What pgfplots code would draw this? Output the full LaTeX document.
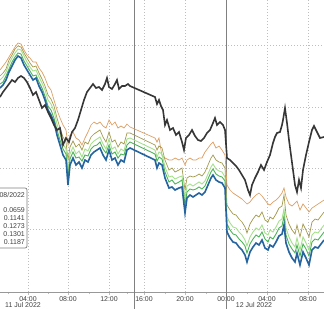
\documentclass[border=0pt]{standalone}
\usepackage{pgfplots}
\pgfplotsset{compat=1.18}
\usepackage{fontspec}
\setmainfont{Liberation Sans}
\definecolor{cBlack}{HTML}{363636}
\definecolor{cBlue}{HTML}{25649E}
\definecolor{cGreen}{HTML}{4DB358}
\definecolor{cLGreen}{HTML}{A6E08C}
\definecolor{cOlive}{HTML}{A39A4E}
\definecolor{cOrange}{HTML}{DDA066}
\definecolor{cGrid}{HTML}{BEBEBE}
\definecolor{cText}{HTML}{404040}
\begin{document}
\begin{tikzpicture}[x=1bp,y=1bp]
\begin{axis}[
  at={(0,0)}, anchor=south west,
  scale only axis, width=324bp, height=292bp,
  xmin=0, xmax=324, ymin=0, ymax=292,
  y dir=reverse,
  axis line style={draw=none},
  clip=false,
  xtick={28,68,109,144,185,226,267,308},
  xticklabels={04:00,08:00,12:00,16:00,20:00,00:00,04:00,08:00},
  minor xtick={8,48,89,127,165,206,247,288},
  xtick pos=lower, xticklabel pos=lower,
  ytick={45,107,168,229}, yticklabels={}, ytick style={draw=none},
  xmajorgrids, ymajorgrids,
  major grid style={cGrid, dash pattern=on 0.8bp off 2.2bp, line width=0.6bp},
  tick align=outside,
  major tick length=3bp, minor tick length=2bp,
  xtick style={cGrid, line width=0.6bp},
  tick label style={font=\fontsize{7}{8}\selectfont, text=cText},
  xticklabel style={yshift=1.5bp},
]
\draw[cGrid!80!black, line width=0.6bp] (axis cs:0,292) -- (axis cs:324,292);
\draw[gray, line width=0.6bp] (axis cs:134,0) -- (axis cs:134,309);
\draw[gray, line width=0.6bp] (axis cs:226,0) -- (axis cs:226,309);

% orange
\addplot[cOrange, line width=0.7bp, no marks] coordinates {
(0,70)(3,66)(6,62)(9,57)(12,52)(15,47)(18,43)(21,44)(24,50)(27,55)(30,58)(33,62)(36,62)(39,68)(42,72)(45,78)(48,86)(51,90)(54,100)(57,110)(60,118)(63,125)(66,130)(68,145)(70,135)(73,132)(76,138)(79,140)(82,145)(85,138)(88,132)(91,125)(94,122)(97,124)(100,122)(103,126)(106,128)(109,120)(112,125)(115,122)(118,128)(121,126)(124,128)(127,124)(130,127)
(155,138)(157,142)(159,138)(162,156)(165,158)(169,160)(172,160)(175,158)(179,160)(182,158)(185,165)(187,160)(190,158)(193,160)(196,160)(199,158)(202,158)(205,152)(208,148)(211,144)(213,142)(216,148)(219,146)(222,150)(225,155)
(227,185)(230,190)(233,193)(236,195)(239,197)(242,199)(245,202)(247,204)(250,202)(253,198)(256,195)(259,193)(262,196)(265,200)(268,204)(270,205)(273,202)(276,200)(279,197)(282,193)(284,188)(286,197)(289,204)(292,206)(295,203)(297,201)(300,210)(303,204)(306,208)(309,212)(312,208)(315,206)(318,204)(321,202)(324,200)};

% olive
\addplot[cOlive, line width=0.7bp, no marks] coordinates {
(0,76)(3,73)(6,69)(9,60)(12,55)(15,49)(18,46)(21,47)(24,53)(27,58)(30,63)(33,67)(36,66)(39,73)(42,79)(45,86)(48,95)(51,99)(54,106)(57,118)(60,128)(63,137)(66,142)(68,160)(70,147)(73,141)(76,147)(79,144)(82,150)(85,142)(88,144)(91,137)(94,134)(97,132)(100,130)(103,137)(106,142)(109,132)(112,142)(115,140)(118,147)(121,142)(124,144)(127,133)(130,133)
(155,145)(157,150)(159,146)(162,148)(165,160)(169,170)(172,168)(175,172)(179,170)(182,168)(185,190)(187,178)(190,176)(193,177)(196,176)(199,174)(202,176)(205,172)(208,165)(211,158)(213,155)(216,160)(219,162)(222,163)(225,168)
(227,205)(230,210)(233,214)(236,215)(239,219)(242,222)(245,227)(247,233)(250,224)(253,219)(256,215)(259,217)(262,212)(265,220)(268,222)(270,217)(273,219)(276,214)(279,208)(282,206)(284,195)(286,215)(289,224)(292,230)(295,234)(297,225)(300,237)(303,224)(306,230)(309,237)(312,222)(315,219)(318,220)(321,216)(324,212)};

% light green
\addplot[cLGreen, line width=0.9bp, no marks] coordinates {
(0,80)(3,77)(6,72)(9,64)(12,58)(15,53)(18,49)(21,50)(24,56)(27,62)(30,67)(33,71)(36,70)(39,77)(42,83)(45,90)(48,100)(51,104)(54,111)(57,124)(60,134)(63,144)(66,149)(68,170)(70,154)(73,147)(76,154)(79,151)(82,157)(85,149)(88,151)(91,144)(94,141)(97,139)(100,137)(103,144)(106,149)(109,139)(112,149)(115,147)(118,154)(121,149)(124,151)(127,139)(130,138)
(155,150)(157,157)(159,152)(162,154)(165,167)(169,177)(172,176)(175,179)(179,177)(182,176)(185,198)(187,186)(190,184)(193,186)(196,184)(199,182)(202,184)(205,181)(208,174)(211,167)(213,164)(216,169)(219,171)(222,172)(225,177)
(227,217)(230,223)(233,227)(236,228)(239,232)(242,235)(245,240)(247,246)(250,237)(253,232)(256,228)(259,230)(262,225)(265,233)(268,235)(270,230)(273,232)(276,227)(279,221)(282,219)(284,209)(286,228)(289,237)(292,243)(295,247)(297,238)(300,250)(303,237)(306,243)(309,250)(312,235)(315,232)(318,233)(321,229)(324,225)};

% green
\addplot[cGreen, line width=0.9bp, no marks] coordinates {
(0,84)(3,82)(6,76)(9,69)(12,62)(15,57)(18,53)(21,54)(24,61)(27,66)(30,71)(33,76)(36,75)(39,82)(42,88)(45,96)(48,106)(51,110)(54,118)(57,130)(60,140)(63,149)(66,154)(68,178)(70,159)(73,152)(76,158)(79,157)(82,161)(85,155)(88,156)(91,149)(94,146)(97,145)(100,142)(103,149)(106,153)(109,145)(112,154)(115,152)(118,158)(121,154)(124,155)(127,145)(130,142)
(155,154)(157,161)(159,157)(162,159)(165,172)(169,182)(172,180)(175,184)(179,182)(182,180)(185,205)(187,192)(190,189)(193,190)(196,189)(199,187)(202,189)(205,186)(208,179)(211,172)(213,169)(216,174)(219,176)(222,177)(225,181)
(227,224)(230,230)(233,234)(236,235)(239,239)(242,242)(245,246)(247,253)(250,244)(253,239)(256,235)(259,237)(262,232)(265,239)(268,242)(270,237)(273,239)(276,234)(279,228)(282,226)(284,216)(286,235)(289,244)(292,249)(295,253)(297,245)(300,256)(303,244)(306,249)(309,256)(312,242)(315,239)(318,240)(321,236)(324,232)};

% blue
\addplot[cBlue, line width=1.6bp, no marks] coordinates {
(0,88)(3,85)(6,80)(9,72)(12,66)(15,60)(18,56)(21,58)(24,65)(27,70)(30,75)(33,80)(36,78)(39,86)(42,92)(45,100)(48,110)(51,115)(54,122)(57,135)(60,145)(63,155)(66,160)(68,185)(70,165)(73,158)(76,165)(79,162)(82,168)(85,160)(88,162)(91,155)(94,152)(97,150)(100,148)(103,155)(106,160)(109,150)(112,160)(115,158)(118,165)(121,160)(124,162)(127,150)(130,148)
(155,160)(157,168)(159,163)(162,165)(165,178)(169,188)(172,187)(175,190)(179,188)(182,187)(185,213)(187,198)(190,195)(193,197)(196,195)(199,193)(202,195)(205,192)(208,185)(211,178)(213,175)(216,180)(219,182)(222,183)(225,188)
(227,232)(230,238)(233,242)(236,243)(239,247)(242,250)(245,255)(247,262)(250,252)(253,247)(256,243)(259,245)(262,240)(265,248)(268,250)(270,245)(273,247)(276,242)(279,236)(282,234)(284,225)(286,243)(289,252)(292,258)(295,262)(297,253)(300,265)(303,252)(306,258)(309,265)(312,250)(315,247)(318,248)(321,244)(324,240)};

% black
\addplot[cBlack, line width=1.6bp, no marks] coordinates {
(0,97)(3,92)(6,88)(9,84)(12,80)(15,82)(18,78)(21,76)(24,78)(27,82)(30,88)(33,95)(36,92)(39,100)(42,108)(45,105)(48,112)(51,118)(54,125)(57,130)(60,128)(63,145)(66,138)(69,142)(72,132)(75,128)(78,120)(81,110)(84,100)(87,92)(90,88)(93,84)(96,88)(99,87)(102,90)(105,84)(107,78)(109,87)(112,89)(115,84)(117,80)(119,89)(122,86)(125,86)(128,84)(130,86)
(155,97)(157,104)(159,100)(161,106)(163,110)(165,125)(167,120)(170,130)(173,128)(176,135)(179,132)(182,142)(184,150)(186,138)(189,135)(192,130)(195,136)(198,140)(201,141)(204,138)(207,133)(210,130)(213,123)(215,118)(217,125)(220,122)(223,125)(225,130)
(227,158)(230,160)(233,163)(236,166)(239,170)(242,175)(245,180)(248,190)(250,195)(252,185)(255,178)(258,172)(261,165)(264,170)(267,162)(270,155)(273,143)(275,137)(277,133)(280,132)(282,125)(283,120)(285,108)(287,123)(289,140)(291,155)(293,170)(295,185)(297,192)(299,180)(301,188)(303,170)(306,155)(309,142)(312,130)(314,126)(317,132)(320,138)(324,137)};

% legend box (cropped at the left edge)
\draw[gray, fill=white, rounded corners=2bp, line width=0.7bp] (axis cs:-12,188) rectangle (axis cs:27,248);
\begin{scope}[every node/.style={anchor=east, inner sep=0pt, font=\fontsize{7}{8}\selectfont, text=cText}]
\node at (axis cs:25,195) {08/2022};
\node at (axis cs:25,210) {0.0659};
\node at (axis cs:25,218) {0.1141};
\node at (axis cs:25,226) {0.1273};
\node at (axis cs:25,234) {0.1301};
\node at (axis cs:25,242) {0.1187};
\end{scope}
\node[font=\fontsize{7}{8}\selectfont, text=cText, inner sep=0pt] at (axis cs:23,305) {11 Jul 2022};
\node[font=\fontsize{7}{8}\selectfont, text=cText, inner sep=0pt] at (axis cs:254,305) {12 Jul 2022};
\end{axis}
\pgfresetboundingbox
\useasboundingbox (0,-17) rectangle (324,292);
\end{tikzpicture}
\end{document}
